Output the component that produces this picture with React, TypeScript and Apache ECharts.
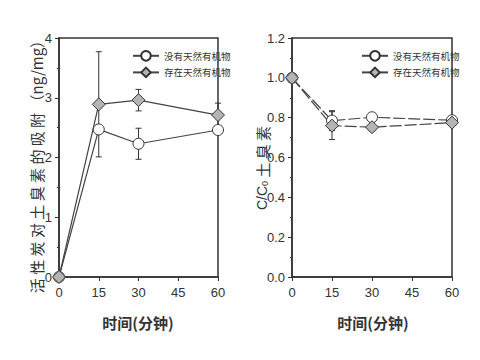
import React, { useEffect, useRef } from "react";
import * as echarts from "echarts";

const times = [0, 15, 30, 60];
const xTicks = [0, 15, 30, 45, 60];
const seriesNames = ["没有天然有机物", "存在天然有机物"];

const leftNoNom = [0, 2.47, 2.23, 2.46];
const leftNoNomErr = [0, 0.05, 0.26, 0.04];
const leftNom = [0, 2.89, 2.96, 2.71];
const leftNomErr = [0, 0.88, 0.18, 0.2];

const rightNoNom = [1.0, 0.785, 0.802, 0.787];
const rightNoNomErr = [0, 0.05, 0.015, 0.015];
const rightNom = [1.0, 0.76, 0.752, 0.775];
const rightNomErr = [0, 0.07, 0.02, 0.01];

const leftYTitle = "活 性 炭 对 土 臭 素 的 吸 附 （ng/mg）";
const xTitle = "时间(分钟)";

const INK = "#333";
const CJK = "'Noto Sans CJK SC', 'Noto Sans', sans-serif";
const NUM = "'Liberation Sans Narrow', 'Liberation Sans', Arial, sans-serif";

function pairs(ys: number[]) {
  return times.map((t, i) => [t, ys[i]]);
}

function errData(ys: number[], es: number[]) {
  return times
    .map((t, i) => [t, ys[i] - es[i], ys[i] + es[i]])
    .filter((_, i) => es[i] > 0);
}

function errSeries(idx: number, ys: number[], es: number[]) {
  return {
    type: "custom",
    xAxisIndex: idx,
    yAxisIndex: idx,
    z: 1,
    data: errData(ys, es),
    renderItem: (params: any, api: any) => {
      const x = api.value(0);
      const lo = api.value(1);
      const hi = api.value(2);
      const p1 = api.coord([x, hi]);
      const p2 = api.coord([x, lo]);
      const w = 3;
      const st = { stroke: INK, lineWidth: 1 };
      return {
        type: "group",
        children: [
          { type: "line", shape: { x1: p1[0], y1: p1[1], x2: p2[0], y2: p2[1] }, style: st },
          { type: "line", shape: { x1: p1[0] - w, y1: p1[1], x2: p1[0] + w, y2: p1[1] }, style: st },
          { type: "line", shape: { x1: p2[0] - w, y1: p2[1], x2: p2[0] + w, y2: p2[1] }, style: st },
        ],
      };
    },
  };
}

function lineSeries(idx: number, name: string, ys: number[], diamond: boolean, dashed: boolean) {
  return {
    type: "line",
    name,
    xAxisIndex: idx,
    yAxisIndex: idx,
    data: pairs(ys),
    z: 3,
    symbol: diamond ? "diamond" : "circle",
    symbolSize: diamond ? 13 : 11,
    lineStyle: { color: "#444", width: 1.2, type: dashed ? [12, 3] : "solid" },
    itemStyle: {
      color: diamond ? "#b4b4b4" : "#ffffff",
      borderColor: INK,
      borderWidth: 1,
    },
  };
}

function xAxis(idx: number) {
  return {
    type: "value",
    gridIndex: idx,
    min: 0,
    max: 60,
    interval: 15,
    axisLine: { lineStyle: { color: INK, width: 1.5 } },
    axisTick: { inside: false, length: 4, lineStyle: { color: INK } },
    axisLabel: {
      color: INK,
      fontSize: 13,
      fontFamily: NUM,
      margin: 9,
      formatter: (v: number) => (xTicks.includes(v) ? String(v) : ""),
    },
    splitLine: { show: false },
  };
}

function yAxis(idx: number, max: number, interval: number, digits: number) {
  return {
    type: "value",
    gridIndex: idx,
    min: 0,
    max,
    interval,
    axisLine: { show: true, lineStyle: { color: INK, width: 1.5 } },
    axisTick: { show: true, inside: false, length: 4, lineStyle: { color: INK } },
    minorTick: { show: true, splitNumber: 2, length: 2, lineStyle: { color: INK } },
    axisLabel: {
      color: INK,
      fontSize: 13,
      fontFamily: NUM,
      margin: 7,
      formatter: (v: number) => v.toFixed(digits),
    },
    splitLine: { show: false },
  };
}

function legend(left: number) {
  return {
    data: seriesNames,
    orient: "vertical",
    left,
    top: 45,
    itemWidth: 26,
    itemHeight: 12,
    itemGap: 5,
    selectedMode: false,
    textStyle: { fontSize: 9.5, color: INK, fontFamily: CJK },
  };
}

export default function App() {
  const ref = useRef<HTMLDivElement>(null);
  useEffect(() => {
    if (!ref.current) return;
    const chart = echarts.init(ref.current, null, { renderer: "svg" });
    chart.setOption({
      animation: false,
      backgroundColor: "#ffffff",
      grid: [
        { left: 59, right: 262, top: 38, bottom: 83, show: true, borderColor: INK, borderWidth: 1.5 },
        { left: 292, right: 28, top: 38, bottom: 83, show: true, borderColor: INK, borderWidth: 1.5 },
      ],
      xAxis: [xAxis(0), xAxis(1)],
      yAxis: [yAxis(0, 4, 1, 0), yAxis(1, 1.2, 0.2, 1)],
      legend: [legend(127), legend(356)],
      series: [
        errSeries(0, leftNoNom, leftNoNomErr),
        errSeries(0, leftNom, leftNomErr),
        lineSeries(0, seriesNames[0], leftNoNom, false, false),
        lineSeries(0, seriesNames[1], leftNom, true, false),
        errSeries(1, rightNoNom, rightNoNomErr),
        errSeries(1, rightNom, rightNomErr),
        lineSeries(1, seriesNames[0], rightNoNom, false, true),
        lineSeries(1, seriesNames[1], rightNom, true, true),
      ],
      graphic: [
        {
          type: "text",
          x: 36,
          y: 163,
          rotation: Math.PI / 2,
          style: {
            text: leftYTitle,
            fontSize: 15,
            fontFamily: CJK,
            fill: INK,
            align: "center",
            verticalAlign: "middle",
          },
        },
        {
          type: "text",
          x: 262,
          y: 168,
          rotation: Math.PI / 2,
          style: {
            text: "{c|C/C}{s|0}{k| 土 臭 素}",
            align: "center",
            verticalAlign: "middle",
            fill: INK,
            rich: {
              c: { fontSize: 14, fontFamily: NUM, fill: INK },
              s: { fontSize: 9, fontFamily: NUM, fill: INK, verticalAlign: "bottom", padding: [6, 0, 0, 0] },
              k: { fontSize: 15, fontFamily: CJK, fill: INK },
            },
          },
        },
        {
          type: "text",
          x: 138,
          y: 322,
          style: {
            text: xTitle,
            fontSize: 15,
            fontWeight: "bold",
            fontFamily: CJK,
            fill: INK,
            align: "center",
            verticalAlign: "middle",
          },
        },
        {
          type: "text",
          x: 373,
          y: 322,
          style: {
            text: xTitle,
            fontSize: 15,
            fontWeight: "bold",
            fontFamily: CJK,
            fill: INK,
            align: "center",
            verticalAlign: "middle",
          },
        },
      ],
    });
    return () => chart.dispose();
  }, []);
  return (
    <div
      ref={ref}
      style={{ position: "fixed", left: 0, top: 0, width: 480, height: 360, background: "#fff" }}
    />
  );
}
